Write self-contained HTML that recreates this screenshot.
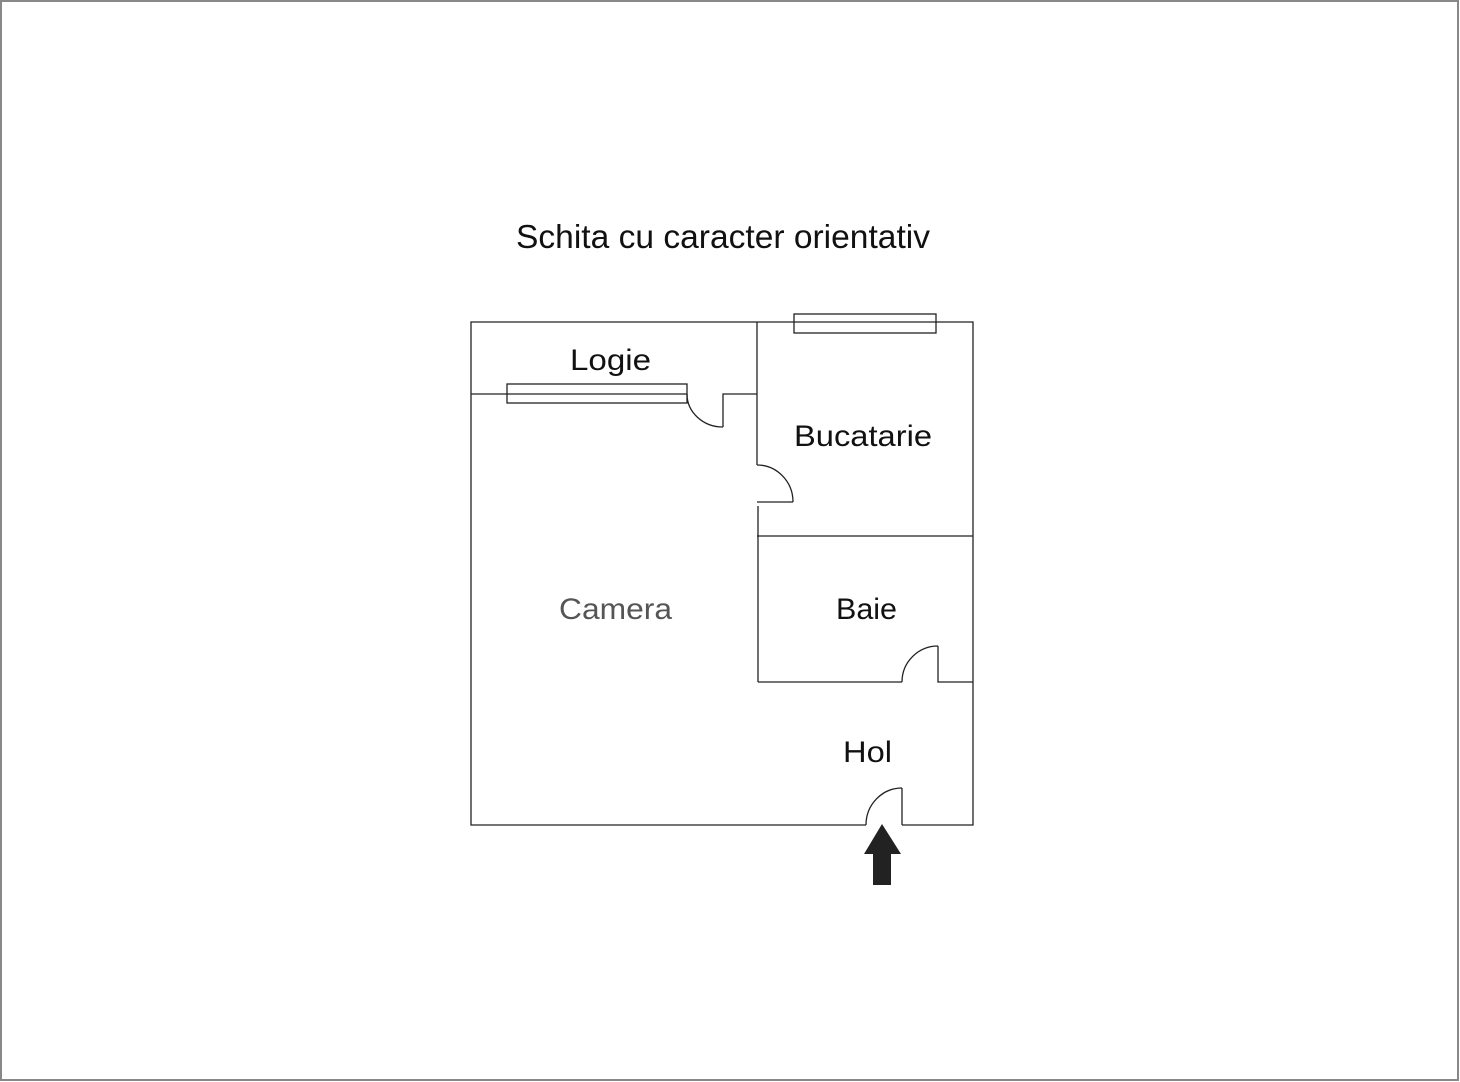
<!DOCTYPE html>
<html><head><meta charset="utf-8"><style>
html,body{margin:0;padding:0;background:#fff;}
svg{display:block;}
text{font-family:"Liberation Sans",sans-serif;}
</style></head><body>
<svg width="1460" height="1082" viewBox="0 0 1460 1082" xmlns="http://www.w3.org/2000/svg">
<rect x="1" y="1" width="1457" height="1079" fill="none" stroke="#888" stroke-width="2"/>
<text x="516" y="248" font-size="33" textLength="414" lengthAdjust="spacingAndGlyphs" fill="#111">Schita cu caracter orientativ</text>
<g fill="none" stroke="#222" stroke-width="1.3">
<!-- outer -->
<polyline points="866,825 471,825 471,322 973,322 973,825 902,825"/>
<!-- logie divider -->
<line x1="471" y1="394" x2="507" y2="394"/>
<rect x="507" y="384" width="180" height="19"/>
<line x1="507" y1="394" x2="687" y2="394"/>
<path d="M687,394 A36,33 0 0 0 723,427"/>
<polyline points="723,427 723,394 757,394"/>
<!-- vertical wall -->
<line x1="757" y1="322" x2="757" y2="465"/>
<path d="M757,465 A36,37 0 0 1 793,502"/>
<line x1="757" y1="502" x2="793" y2="502"/>
<line x1="758" y1="506" x2="758" y2="682"/>
<!-- kitchen window -->
<rect x="794" y="314" width="142" height="19"/>
<!-- kitchen/bath -->
<line x1="757" y1="536" x2="973" y2="536"/>
<!-- bath bottom -->
<line x1="758" y1="682" x2="902" y2="682"/>
<path d="M902,682 A36,36 0 0 1 938,646"/>
<polyline points="938,646 938,682 973,682"/>
<!-- entrance door -->
<path d="M866,825 A36,37 0 0 1 902,788"/>
<line x1="902" y1="788" x2="902" y2="825"/>
</g>
<polygon points="882,824 901,854 891,854 891,885 873,885 873,854 864,854" fill="#222"/>
<g font-size="30" fill="#111">
<text x="570" y="370" textLength="81" lengthAdjust="spacingAndGlyphs">Logie</text>
<text x="794" y="446" textLength="138" lengthAdjust="spacingAndGlyphs">Bucatarie</text>
<text x="559" y="619" textLength="113" lengthAdjust="spacingAndGlyphs" fill="#555">Camera</text>
<text x="836" y="619" textLength="61" lengthAdjust="spacingAndGlyphs">Baie</text>
<text x="843" y="762" textLength="49" lengthAdjust="spacingAndGlyphs">Hol</text>
</g>
</svg>
</body></html>
